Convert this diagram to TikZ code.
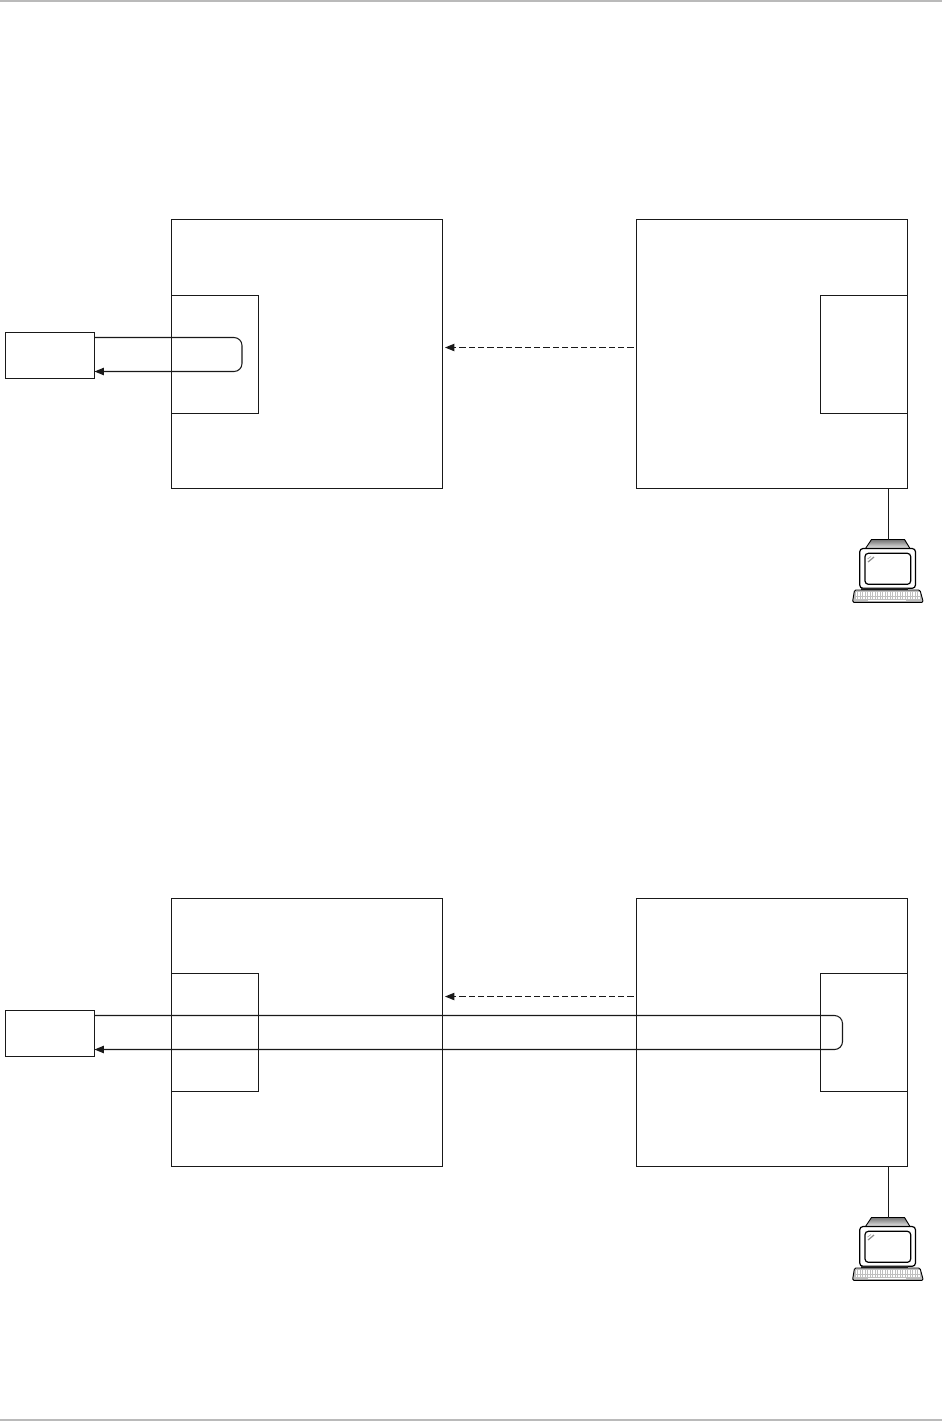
\documentclass[tikz,border=0pt]{standalone}
\usepackage{tikz}
\usetikzlibrary{arrows.meta}
\tikzset{
    box/.style={draw=black!90, line width=0.8pt, fill=none, inner sep=0pt, outer sep=0pt},
    hostbox/.style={box, minimum width=203.25pt, minimum height=201.75pt},
    cachebox/.style={box, minimum width=65.25pt, minimum height=88.5pt},
    extbox/.style={box, minimum width=66.75pt, minimum height=34.5pt},
    link/.style={draw=black!90, line width=0.8pt},
    looplink/.style={link, rounded corners=6pt, -{Triangle[length=7pt,width=5.5pt]}},
    mirror/.style={link, line width=0.7pt, dash pattern=on 4.6pt off 2.4pt, -{Triangle[length=7pt,width=5.5pt]}},
    pics/terminal/.style={code={
        \draw[line width=0.7pt, top color=black!55, bottom color=black!8] (-23,8.5) -- (-17,-0.5) -- (16,-0.5) -- (21.5,8.5) -- cycle;
        \draw[line width=0.9pt, fill=white, rounded corners=2.5pt] (-28.8,8.5) rectangle (27,48.3);
        \draw[line width=0.9pt, fill=white, rounded corners=2.5pt] (-23.5,13.3) rectangle (22.2,44.3);
        \draw[black!45, line width=0.9pt] (-20.5,22) -- (-14.5,17);
        \draw[black!35, line width=0.5pt] (-21,19) -- (-17.5,16.5);
        \fill[black!85] (-27.5,47.7) rectangle (19.5,50.2);
        \draw[line width=0.7pt, fill=black!25, rounded corners=1pt] (-34,50) -- (31.5,50) -- (34.8,62.3) -- (-36,62.3) -- cycle;
        \foreach \row in {51.6,54.4,57.2} {
            \foreach \kx in {-33,-30.5,...,30} {
                \fill[white] (\kx,\row) rectangle (\kx+1.6,\row+1.9);
            }
        }
        \fill[white] (-21,60) rectangle (17,61.4);
    }}
}
\begin{document}
\begin{tikzpicture}[x=0.75pt, y=-0.75pt]
    \useasboundingbox (0,0) rectangle (942,1421);
    % page rules
    \fill[black!27] (0,0) rectangle (942,2);
    \fill[black!27] (0,1419) rectangle (942,1421);

    % upper panel
    \node[hostbox] (hostA) at (306.75, 354) {};
    \node[hostbox] (hostB) at (772, 354) {};
    \node[cachebox] (cacheA) at (215, 354.5) {};
    \node[cachebox] (cacheB) at (864, 354.5) {};
    \node[extbox] (extA) at (50, 355.5) {};
    \coordinate (turnAa) at (242, 337.5);
    \coordinate (turnAb) at (242, 371.5);
    \coordinate (mirrorAa) at (633.5, 347.5);
    \coordinate (mirrorAb) at (445, 347.5);
    \coordinate (termA) at (888.5, 540);
    \draw[looplink] (extA.east |- turnAa) -- (turnAa) -- (turnAb) -- (extA.east |- turnAb);
    \draw[mirror] (mirrorAa) -- (mirrorAb);
    \pic at (termA) {terminal};
    \draw[link] (hostB.south -| termA) -- (termA);

    % lower panel
    \node[hostbox, minimum height=201pt] (hostC) at (306.75, 1032.5) {};
    \node[hostbox, minimum height=201pt] (hostD) at (772, 1032.5) {};
    \node[cachebox] (cacheC) at (215, 1032.5) {};
    \node[cachebox] (cacheD) at (864, 1032.5) {};
    \node[extbox] (extB) at (50, 1033.5) {};
    \coordinate (turnBa) at (842.5, 1015.5);
    \coordinate (turnBb) at (842.5, 1049.5);
    \coordinate (mirrorBa) at (633.5, 996.5);
    \coordinate (mirrorBb) at (445, 996.5);
    \coordinate (termB) at (888.5, 1218);
    \draw[looplink] (extB.east |- turnBa) -- (turnBa) -- (turnBb) -- (extB.east |- turnBb);
    \draw[mirror] (mirrorBa) -- (mirrorBb);
    \pic at (termB) {terminal};
    \draw[link] (hostD.south -| termB) -- (termB);
\end{tikzpicture}
\end{document}
